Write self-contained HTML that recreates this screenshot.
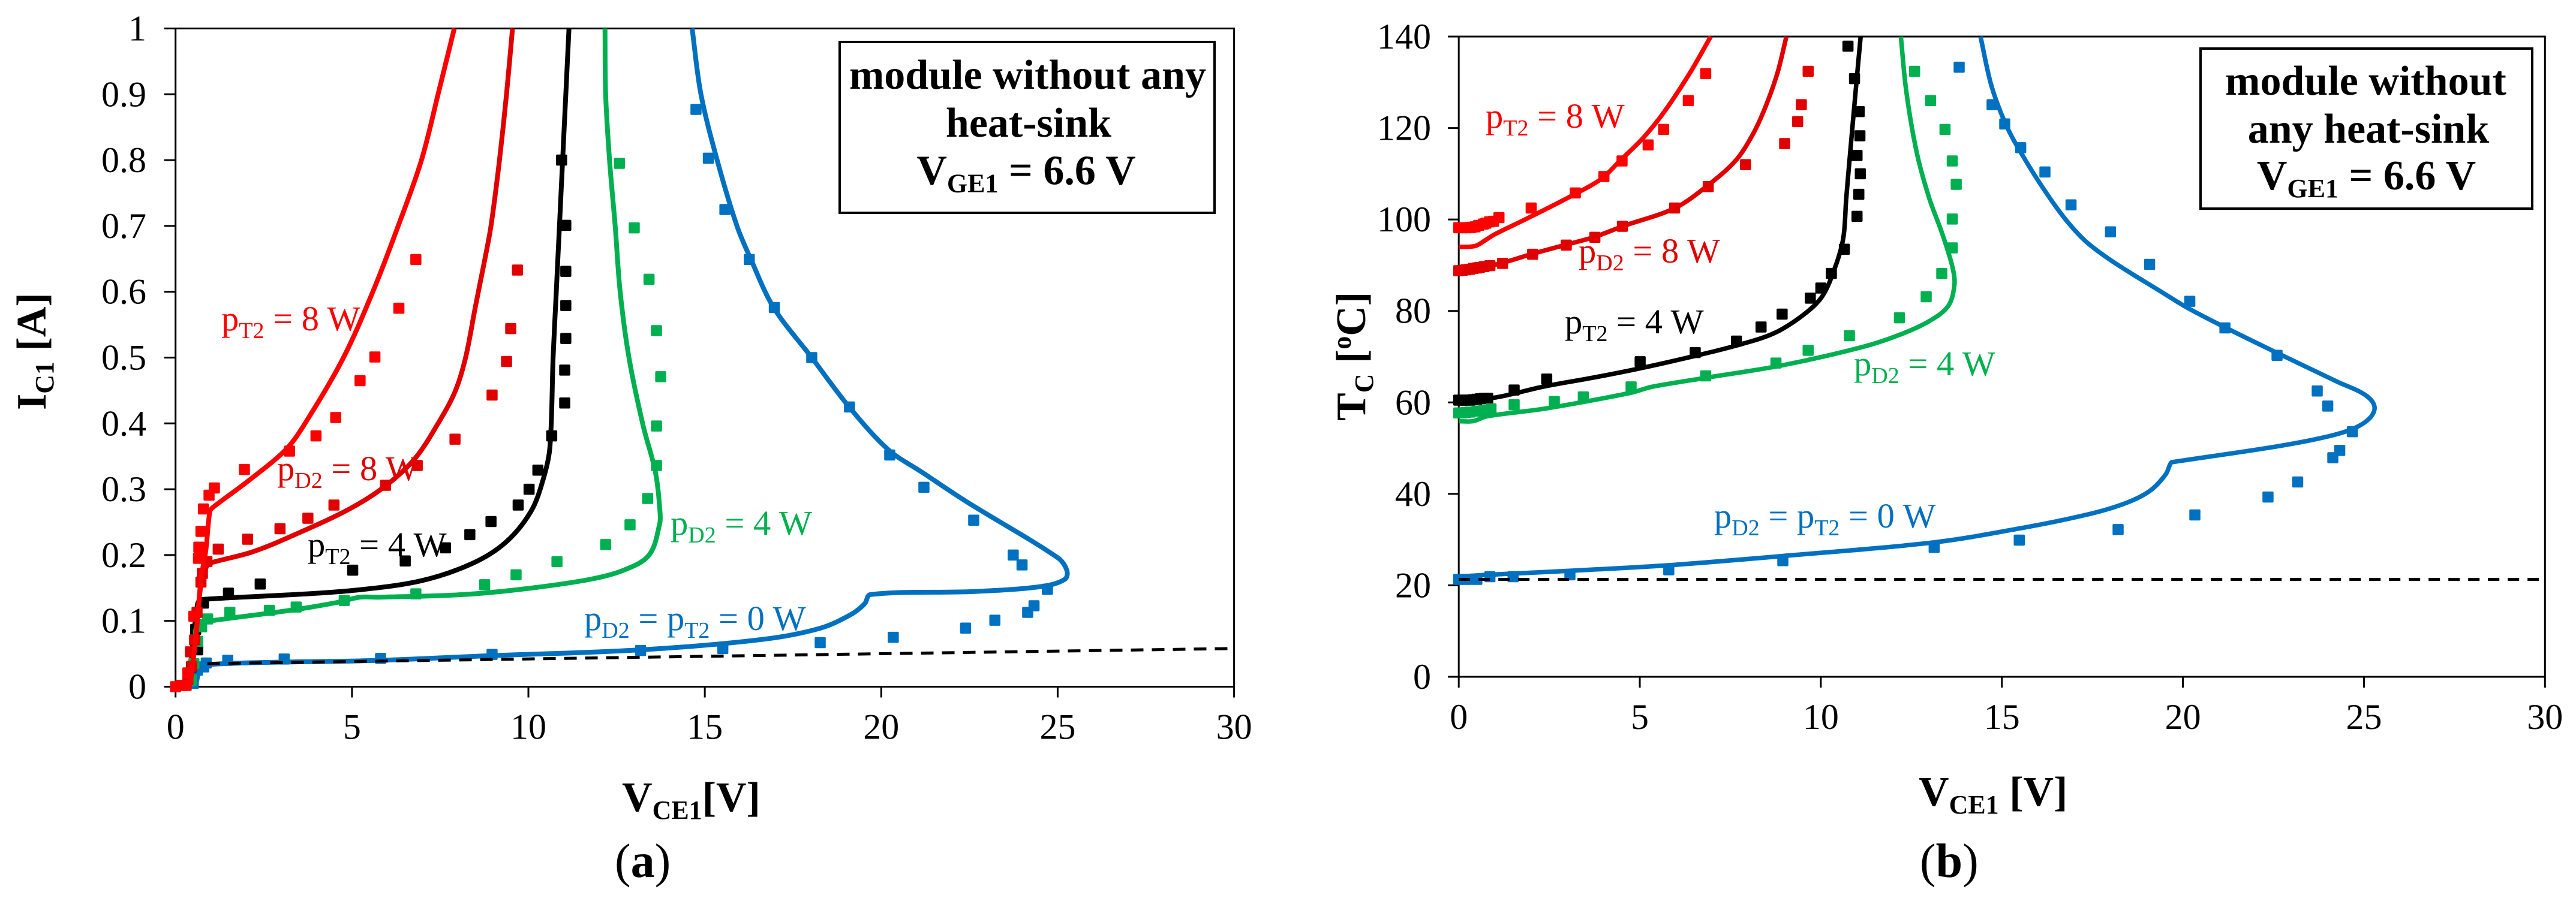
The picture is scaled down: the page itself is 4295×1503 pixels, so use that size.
<!DOCTYPE html>
<html lang="en">
<head>
<meta charset="utf-8">
<title>IC1 and TC versus VCE1 characteristics</title>
<style>
html,body{margin:0;padding:0;background:#fff;width:4295px;height:1503px;overflow:hidden}
svg{display:block}
text{font-family:"Liberation Serif","Times New Roman",serif;white-space:pre}
.t{font-size:58.5px}
.b{font-size:70px;font-weight:bold;fill:#000}
</style>
</head>
<body>
<svg xmlns="http://www.w3.org/2000/svg" width="4295" height="1503" viewBox="0 0 4295 1503">
<rect width="4295" height="1503" fill="#fff"/>

<g id="chart-a"></g>
<g id="chart-b"></g>

<g>
  <text class="t" x="369" y="551" fill="#ff0000">p<tspan font-size="38" dy="13">T2</tspan><tspan dy="-13"> = 8 W</tspan></text>
  <text class="t" x="462" y="801" fill="#e00000">p<tspan font-size="38" dy="13">D2</tspan><tspan dy="-13"> = 8 W</tspan></text>
  <text class="t" x="513" y="928" fill="#000">p<tspan font-size="38" dy="13">T2</tspan><tspan dy="-13"> = 4 W</tspan></text>
  <text class="t" x="1118" y="892" fill="#00b050">p<tspan font-size="38" dy="13">D2</tspan><tspan dy="-13"> = 4 W</tspan></text>
  <text class="t" x="974" y="1051" fill="#0070c0">p<tspan font-size="38" dy="13">D2</tspan><tspan dy="-13"> = p</tspan><tspan font-size="38" dy="13">T2</tspan><tspan dy="-13"> = 0 W</tspan></text>

  <rect x="1400" y="70" width="625" height="285" fill="#fff" stroke="#000" stroke-width="4"/>
  <text class="b" x="1713.5" y="148" text-anchor="middle">module without any</text>
  <text class="b" x="1715" y="228" text-anchor="middle">heat-sink</text>
  <text class="b" x="1711" y="307.5" text-anchor="middle">V<tspan font-size="44" dy="13">GE1</tspan><tspan dy="-13"> = 6.6 V</tspan></text>

  <text class="b" transform="translate(76,684) rotate(-90)">I<tspan font-size="44" dy="13">C1</tspan><tspan dy="-13"> [A]</tspan></text>
  <text class="b" x="1037" y="1353">V<tspan font-size="44" dy="13">CE1</tspan><tspan dy="-13">[V]</tspan></text>
  <text x="1025" y="1463" font-size="80">(<tspan font-weight="bold">a</tspan>)</text>
</g>

<g>
  <text class="t" x="2477" y="213" fill="#ff0000">p<tspan font-size="38" dy="13">T2</tspan><tspan dy="-13"> = 8 W</tspan></text>
  <text class="t" x="2632" y="438" fill="#e00000">p<tspan font-size="38" dy="13">D2</tspan><tspan dy="-13"> = 8 W</tspan></text>
  <text class="t" x="2609" y="556" fill="#000">p<tspan font-size="38" dy="13">T2</tspan><tspan dy="-13"> = 4 W</tspan></text>
  <text class="t" x="3091" y="626" fill="#00b050">p<tspan font-size="38" dy="13">D2</tspan><tspan dy="-13"> = 4 W</tspan></text>
  <text class="t" x="2858" y="880" fill="#0070c0">p<tspan font-size="38" dy="13">D2</tspan><tspan dy="-13"> = p</tspan><tspan font-size="38" dy="13">T2</tspan><tspan dy="-13"> = 0 W</tspan></text>

  <rect x="3669" y="81" width="553" height="267" fill="#fff" stroke="#000" stroke-width="4"/>
  <text class="b" x="3944.5" y="158" text-anchor="middle">module without</text>
  <text class="b" x="3949" y="238" text-anchor="middle">any heat-sink</text>
  <text class="b" x="3945.5" y="316" text-anchor="middle">V<tspan font-size="44" dy="13">GE1</tspan><tspan dy="-13"> = 6.6 V</tspan></text>

  <text class="b" transform="translate(2276,702) rotate(-90)">T<tspan font-size="44" dy="13">C</tspan><tspan dy="-13"> [</tspan><tspan font-size="44" dy="-24">o</tspan><tspan dy="24">C]</tspan></text>
  <text class="b" x="3199" y="1344">V<tspan font-size="44" dy="13">CE1</tspan><tspan dy="-13"> [V]</tspan></text>
  <text x="3201" y="1463" font-size="80">(<tspan font-weight="bold">b</tspan>)</text>
</g>
</svg>

<script>
// ---- tick labels ----
const xTickLabels = ['0','5','10','15','20','25','30'];
const yTickLabelsA = ['0','0.1','0.2','0.3','0.4','0.5','0.6','0.7','0.8','0.9','1'];
const yTickLabelsB = ['0','20','40','60','80','100','120','140'];

// ---- chart A: IC1 vs VCE1, model curves ----
const aBlueLineV = [0.4,0.57,0.69,0.99,5.77,8.88,13.18,16.66,18.28,19.15,19.53,19.69,22.64,24.51,25.2,25.26,25,22.39,21.15,20.2,19.09,18.03,16.95,16.3,15.91,15.35,14.89,14.64];
const aBlueLineI = [0,0.005,0.026,0.034,0.04,0.047,0.056,0.072,0.089,0.11,0.126,0.14,0.1446,0.152,0.163,0.177,0.196,0.282,0.326,0.36,0.425,0.5,0.576,0.65,0.7,0.8,0.9,1];
const aBlackLineV = [0.38,0.45,0.51,0.6,0.66,0.87,3.38,5.17,6.97,8.4,9.35,10.07,10.43,10.61,10.7,10.79,10.88,10.97,11.06,11.15];
const aBlackLineI = [0.005,0.04,0.079,0.115,0.13,0.133,0.14,0.147,0.161,0.187,0.219,0.266,0.317,0.364,0.5,0.6,0.7,0.8,0.9,1];
const aGreenLineV = [0.4,0.45,0.55,0.63,0.99,3.38,4.58,5.23,5.77,8.16,9.95,11.74,12.7,13.42,13.72,13.73,13.6,13.25,12.85,12.6,12.46,12.3,12.19,12.17];
const aGreenLineI = [0.005,0.03,0.06,0.096,0.1,0.117,0.128,0.136,0.136,0.14,0.149,0.163,0.177,0.2,0.247,0.266,0.326,0.397,0.5,0.6,0.7,0.8,0.9,1];
const aD2LineV = [0.42,0.5,0.6,0.72,0.86,0.93,1.05,2.19,3.38,4.93,5.95,6.79,7.44,7.92,8.22,8.5,8.76,8.94,9.18,9.38,9.55];
const aD2LineI = [0.005,0.04,0.09,0.155,0.18,0.186,0.189,0.205,0.231,0.27,0.305,0.347,0.4,0.448,0.5,0.578,0.648,0.7,0.8,0.9,1];
const aT2LineV = [0.42,0.5,0.6,0.72,0.86,0.97,1.05,2.07,3.14,3.74,4.76,5.59,6.31,6.97,7.44,7.9];
const aT2LineI = [0.005,0.04,0.09,0.163,0.208,0.266,0.272,0.313,0.361,0.406,0.5,0.6,0.7,0.8,0.9,1];
const aAmbientV = [0.9,30];
const aAmbientI = [0.035,0.058];

// ---- chart A: measured points ----
const aBlueMarkV = [14.75,15.1,15.57,16.26,16.97,18.03,19.1,20.24,21.21,22.62,23.74,23.99,24.71,24.33,24.15,23.22,22.39,20.34,18.27,15.51,13.18,8.97,5.81,3.08,1.48,0.87,0.8,0.62,0.5];
const aBlueMarkI = [0.877,0.803,0.725,0.649,0.576,0.5,0.425,0.352,0.303,0.253,0.2,0.185,0.148,0.123,0.113,0.101,0.089,0.075,0.067,0.058,0.055,0.049,0.043,0.042,0.04,0.036,0.03,0.025,0.005];
const aBlackMarkV = [10.94,11.06,11.06,11.06,11.06,11.03,11.03,10.66,10.27,10.02,9.71,8.94,8.34,7.65,6.51,5.02,2.4,1.5,0.79,0.57,0.63,0.45];
const aBlackMarkI = [0.8,0.701,0.631,0.579,0.529,0.481,0.431,0.381,0.329,0.3,0.276,0.251,0.231,0.211,0.191,0.177,0.156,0.142,0.127,0.087,0.056,0.03];
const aGreenMarkV = [12.58,13,13.42,13.63,13.75,13.63,13.63,13.38,12.88,12.19,10.81,9.65,8.76,6.81,4.78,3.42,2.66,1.54,0.91,0.74,0.63,0.52,0.45];
const aGreenMarkI = [0.795,0.697,0.619,0.541,0.471,0.396,0.336,0.286,0.246,0.216,0.19,0.17,0.155,0.141,0.131,0.121,0.116,0.113,0.103,0.091,0.069,0.035,0.01];
const aD2MarkV = [9.69,9.5,9.38,8.97,7.92,6.85,5.95,4.49,3.75,2.96,2.04,1.21,0.89,0.76,0.72,0.61,0.54,0.42,0.46,0.35,0.3];
const aD2MarkI = [0.633,0.544,0.494,0.443,0.376,0.336,0.306,0.276,0.256,0.24,0.224,0.209,0.19,0.172,0.159,0.113,0.071,0.053,0.031,0.011,0.002];
const aT2MarkV = [6.81,6.33,5.65,5.23,4.54,3.98,3.23,1.95,1.1,0.95,0.79,0.72,0.66,0.65,0.52,0.35,0.29,0.15,0];
const aT2MarkI = [0.649,0.575,0.501,0.465,0.409,0.381,0.358,0.33,0.302,0.291,0.27,0.236,0.212,0.195,0.107,0.021,0.002,0.002,0];

// ---- chart B: TC vs VCE1, model curves ----
const bBlueLineV = [0,0.8,3.12,5.8,8.93,13.13,15.46,17.32,18.36,19.06,19.52,19.67,19.75,22.3,23.69,24.62,25.14,25.29,25.02,24.27,22.53,21.14,20.1,19.4,18.1,17.32,16.74,16.16,15.58,15.12,14.71,14.41];
const bBlueLineT = [21.9,22.3,23.2,24.4,26.4,29.4,32.4,35.4,37.8,40.5,44.2,46.8,47,50,52,54,56.4,59.1,61.7,64.5,71.1,76.5,80.8,84.2,90.6,95.2,100.2,106.6,113.9,120.6,129.3,140];
const bBlackLineV = [0,1.03,2.31,3.7,4.98,6.49,7.65,8.7,9.51,10.03,10.38,10.62,10.7,10.81,10.96,11.1];
const bBlackLineT = [60.4,61.1,63.4,65.4,67.4,70.1,72.4,75.1,79.1,83.1,89.2,95.9,104.5,114.6,128,140];
const bGreenLineV = [0,0.39,0.8,2.43,4.75,5.33,6.84,8.93,11.14,12.18,13,13.52,13.69,13.63,13.34,13,12.65,12.36,12.21];
const bGreenLineT = [55.9,55.9,57,58.7,62.1,63.4,65.4,68.1,72.1,74.8,77.8,81.1,85.8,89.8,97.2,104.5,114.6,128,140];
const bD2LineV = [0,0.8,1.21,2.04,2.97,3.76,4.52,5.97,6.9,7.65,8.12,8.47,8.8,9.05];
const bD2LineT = [88.8,89.8,90.5,92.5,94.5,96.2,98.5,102.5,107.6,112.9,118.6,124.6,132,140];
const bT2LineV = [0,0.45,0.74,0.98,1.96,3.22,3.94,4.46,5.1,5.68,6.38,6.96];
const bT2LineT = [94,94.2,95.5,96.7,100.5,105.6,108.9,112.9,117.9,123.6,132,140];
const bAmbientV = [0,30];
const bAmbientT = [21.3,21.3];

// ---- chart B: measured points ----
const bBlueMarkV = [13.82,14.73,15.08,15.52,16.19,16.91,18,19.08,20.19,21.16,22.6,23.71,24,24.68,24.33,24.14,23.17,22.35,20.33,18.21,15.48,13.13,8.95,5.8,3.07,1.5,0.86,0.5,0.22,0];
const bBlueMarkT = [133.3,125.1,120.9,115.7,110.4,103.2,97.3,90.2,82.1,76.3,70.3,62.5,59.2,53.6,49.5,47.9,42.6,39.3,35.4,32.2,29.9,28.3,25.4,23.4,22.3,21.9,21.9,21.3,21.3,21.3];
const bBlackMarkV = [10.75,10.93,11.06,11.08,11,11.09,11.05,11,10.65,10.29,10,9.71,8.93,8.35,7.67,6.53,5.01,2.43,1.53,0.8,0.7,0.6,0.5,0.4,0.3,0.2,0.1,0];
const bBlackMarkT = [137.9,130.8,123.6,118.3,114,110,105.5,100.7,93.5,88.2,85,82.8,79.3,76.5,73.4,70.9,68.9,65.1,62.7,60.9,60.9,60.8,60.7,60.6,60.5,60.5,60.5,60.5];
const bGreenMarkV = [12.59,13.03,13.43,13.63,13.74,13.63,13.63,13.34,12.91,12.17,10.79,9.65,8.76,6.82,4.76,3.44,2.64,1.53,0.89,0.7,0.5,0.3,0.2,0.1,0];
const bGreenMarkT = [132.4,126,119.7,112.8,107.7,100.1,93.8,88.2,83.1,78.5,74.6,71.4,68.6,65.8,63.4,61.2,60.2,59.5,58.6,58.3,58.1,57.9,57.8,57.7,57.7];
const bD2MarkV = [9.65,9.46,9.36,9,7.92,6.89,5.96,4.52,3.76,2.97,2.04,1.21,0.86,0.7,0.57,0.5,0.4,0.3,0.2,0.1,0];
const bD2MarkT = [132.4,125.1,121.4,116.6,112,107.2,102.5,98.5,96.1,94.4,92.4,90.4,89.9,89.7,89.5,89.4,89.3,89.1,89,88.9,88.8];
const bT2MarkV = [6.82,6.34,5.66,5.23,4.51,4.01,3.22,2,1.11,0.96,0.85,0.75,0.68,0.55,0.45,0.35,0.3,0.2,0.1,0];
const bT2MarkT = [131.9,126,119.7,116.3,112.8,109.4,105.8,102.5,100.4,99.6,99.5,99.2,99,98.7,98.4,98.3,98.2,98.2,98.2,98.2];

const SVGNS = 'http://www.w3.org/2000/svg';

function make(tag, attrs, parent) {
  const node = document.createElementNS(SVGNS, tag);
  for (const k in attrs) node.setAttribute(k, attrs[k]);
  parent.appendChild(node);
  return node;
}

function linear(d0, d1, r0, r1) {
  return function (v) { return r0 + (v - d0) * (r1 - r0) / (d1 - d0); };
}

// Smooth path through points; control handles scale with each segment, so dense knees stay tight.
function smoothPath(xs, ys) {
  const n = xs.length;
  let d = 'M' + xs[0].toFixed(1) + ' ' + ys[0].toFixed(1);
  function tangent(i) {
    const a = Math.max(i - 1, 0), b = Math.min(i + 1, n - 1);
    const dx = xs[b] - xs[a], dy = ys[b] - ys[a];
    const len = Math.hypot(dx, dy) || 1;
    return [dx / len, dy / len];
  }
  for (let i = 0; i < n - 1; i++) {
    const seg = Math.hypot(xs[i + 1] - xs[i], ys[i + 1] - ys[i]);
    const t0 = tangent(i), t1 = tangent(i + 1);
    const h = seg * 0.33;
    d += ' C' + (xs[i] + t0[0] * h).toFixed(1) + ' ' + (ys[i] + t0[1] * h).toFixed(1) +
         ' ' + (xs[i + 1] - t1[0] * h).toFixed(1) + ' ' + (ys[i + 1] - t1[1] * h).toFixed(1) +
         ' ' + xs[i + 1].toFixed(1) + ' ' + ys[i + 1].toFixed(1);
  }
  return d;
}

function drawCurve(parent, sx, sy, vs, ys, color, width, name) {
  const path = make('path', {
    d: smoothPath(vs.map(sx), ys.map(sy)),
    fill: 'none', stroke: color, 'stroke-width': width,
    'stroke-linejoin': 'round', 'stroke-linecap': 'butt'
  }, parent);
  
  
}

function drawDashed(parent, sx, sy, vs, ys, dash, name) {
  const line = make('line', {
    x1: sx(vs[0]), y1: sy(ys[0]), x2: sx(vs[1]), y2: sy(ys[1]),
    stroke: '#000', 'stroke-width': 5, 'stroke-dasharray': dash
  }, parent);
  
  
}

function drawMarks(parent, sx, sy, vs, ys, color, name) {
  const size = 18.5;
  for (let i = 0; i < vs.length; i++) {
    const r = make('rect', {
      x: (sx(vs[i]) - size / 2).toFixed(1), y: (sy(ys[i]) - size / 2).toFixed(1),
      width: size, height: size, rx: 2, fill: color
    }, parent);
    
    
  }
}

function drawAxes(parent, sx, sy, xMax, yMax, yLabels, o) {
  const L = sx(0), R = sx(xMax), T = sy(yMax), B = sy(0);
  const frame = make('rect', { x: L, y: T, width: R - L, height: B - T, fill: 'none', stroke: '#000', 'stroke-width': 3 }, parent);
  
  

  xTickLabels.forEach(function (lab) {
    const v = Number(lab);
    const tick = make('line', { x1: sx(v), x2: sx(v), y1: B, y2: B + o.xTickLen, stroke: '#000', 'stroke-width': 3 }, parent);
    
    
    const txt = make('text', { x: sx(v), y: o.xLabelY, 'text-anchor': 'middle', 'font-size': 60, fill: '#000' }, parent);
    txt.textContent = lab;
    
    
  });

  yLabels.forEach(function (lab) {
    const v = Number(lab);
    const tick = make('line', { x1: L - o.yTickLen, x2: L, y1: sy(v), y2: sy(v), stroke: '#000', 'stroke-width': 3 }, parent);
    
    
    const txt = make('text', { x: o.yLabelX, y: sy(v) + 20, 'text-anchor': 'end', 'font-size': 60, fill: '#000' }, parent);
    txt.textContent = lab;
    
    
  });
}

const BLUE = '#0070c0', GREEN = '#00b050', DRED = '#e00000', RED = '#ff0000', BLACK = '#000000';

// ---- chart A ----
const gA = document.getElementById('chart-a');
const xA = linear(0, 30, 292.7, 2057.6);
const yA = linear(0, 1, 1145.5, 47.5);
drawAxes(gA, xA, yA, 30, 1, yTickLabelsA, { xTickLen: 18, yTickLen: 19, xLabelY: 1232.6, yLabelX: 244 });
drawCurve(gA, xA, yA, aBlueLineV, aBlueLineI, BLUE, 8, 'curve-a-blue');
drawMarks(gA, xA, yA, aBlueMarkV, aBlueMarkI, BLUE, 'point-a-blue');
drawDashed(gA, xA, yA, aAmbientV, aAmbientI, '21 14', 'ambient-line-a');
drawCurve(gA, xA, yA, aBlackLineV, aBlackLineI, BLACK, 8, 'curve-a-black');
drawMarks(gA, xA, yA, aBlackMarkV, aBlackMarkI, BLACK, 'point-a-black');
drawCurve(gA, xA, yA, aGreenLineV, aGreenLineI, GREEN, 8, 'curve-a-green');
drawMarks(gA, xA, yA, aGreenMarkV, aGreenMarkI, GREEN, 'point-a-green');
drawCurve(gA, xA, yA, aD2LineV, aD2LineI, DRED, 8, 'curve-a-d2');
drawMarks(gA, xA, yA, aD2MarkV, aD2MarkI, DRED, 'point-a-d2');
drawCurve(gA, xA, yA, aT2LineV, aT2LineI, RED, 8, 'curve-a-t2');
drawMarks(gA, xA, yA, aT2MarkV, aT2MarkI, RED, 'point-a-t2');

// ---- chart B ----
const gB = document.getElementById('chart-b');
const xB = linear(0, 30, 2432.2, 4243.3);
const yB = linear(0, 140, 1129, 61);
drawAxes(gB, xB, yB, 30, 140, yTickLabelsB, { xTickLen: 18, yTickLen: 18, xLabelY: 1216, yLabelX: 2386 });
drawCurve(gB, xB, yB, bBlueLineV, bBlueLineT, BLUE, 7.5, 'curve-b-blue');
drawMarks(gB, xB, yB, bBlueMarkV, bBlueMarkT, BLUE, 'point-b-blue');
drawDashed(gB, xB, yB, bAmbientV, bAmbientT, '19 14', 'ambient-line-b');
drawCurve(gB, xB, yB, bBlackLineV, bBlackLineT, BLACK, 7.5, 'curve-b-black');
drawMarks(gB, xB, yB, bBlackMarkV, bBlackMarkT, BLACK, 'point-b-black');
drawCurve(gB, xB, yB, bGreenLineV, bGreenLineT, GREEN, 7.5, 'curve-b-green');
drawMarks(gB, xB, yB, bGreenMarkV, bGreenMarkT, GREEN, 'point-b-green');
drawCurve(gB, xB, yB, bD2LineV, bD2LineT, DRED, 7.5, 'curve-b-d2');
drawMarks(gB, xB, yB, bD2MarkV, bD2MarkT, DRED, 'point-b-d2');
drawCurve(gB, xB, yB, bT2LineV, bT2LineT, RED, 7.5, 'curve-b-t2');
drawMarks(gB, xB, yB, bT2MarkV, bT2MarkT, RED, 'point-b-t2');
</script>
</body>
</html>
